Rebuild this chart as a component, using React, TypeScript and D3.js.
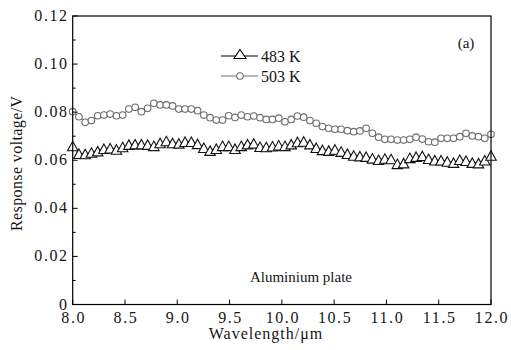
import React from "react";
import * as d3 from "d3";

// Wavelength sampling (µm) and response voltages (V) for the two temperatures
const wavelengthStart = 8.0;
const wavelengthEnd = 12.0;

const response483K: number[] = [
  0.0659, 0.0627, 0.0626, 0.0632, 0.0638, 0.0648, 0.065, 0.0645, 0.0655, 0.0665,
  0.0667, 0.0667, 0.0665, 0.066, 0.0672, 0.068, 0.0672, 0.067, 0.0677, 0.0677,
  0.0668, 0.0652, 0.064, 0.0648, 0.066, 0.066, 0.0648, 0.066, 0.0667, 0.067,
  0.0656, 0.0655, 0.0658, 0.0662, 0.066, 0.0667, 0.0676, 0.0678, 0.0667, 0.0652,
  0.0643, 0.064, 0.0645, 0.0636, 0.0627, 0.062, 0.0617, 0.0615, 0.0608, 0.0602,
  0.0607, 0.0605, 0.0585, 0.0588, 0.061, 0.0615, 0.0618, 0.0606, 0.06, 0.06,
  0.0595, 0.059, 0.0602, 0.0598, 0.059, 0.0588, 0.06, 0.062,
];

const response503K: number[] = [
  0.0802, 0.0781, 0.0758, 0.0765, 0.0785, 0.0788, 0.0792, 0.0785, 0.0788, 0.0813,
  0.082, 0.0802, 0.0816, 0.0837, 0.083, 0.083, 0.0826, 0.0813, 0.0813, 0.0813,
  0.0806, 0.0788, 0.0777, 0.0767, 0.0767, 0.0785, 0.0778, 0.0788, 0.0781, 0.0784,
  0.0777, 0.077, 0.077, 0.0775, 0.076, 0.077, 0.0784, 0.0779, 0.0765, 0.0754,
  0.074, 0.0733, 0.0729, 0.0729, 0.0723, 0.0719, 0.0722, 0.0733, 0.0712, 0.0696,
  0.0687, 0.0687, 0.0684, 0.0684, 0.0687, 0.0696, 0.0688, 0.0677, 0.0675, 0.0691,
  0.0691, 0.0691, 0.0698, 0.0712, 0.0701, 0.0698, 0.0691, 0.0708,
];

const xTicks: number[] = [8.0, 8.5, 9.0, 9.5, 10.0, 10.5, 11.0, 11.5, 12.0];
const yTicks: number[] = [0, 0.02, 0.04, 0.06, 0.08, 0.1, 0.12];
const yMinorTicks: number[] = [0.01, 0.03, 0.05, 0.07, 0.09, 0.11];
const yTickLabels: string[] = ["0", "0.02", "0.04", "0.06", "0.08", "0.10", "0.12"];
const seriesLabels: string[] = ["483 K", "503 K"];

const W = 511;
const H = 350;
const margin = { left: 72.7, right: 20, top: 16, bottom: 45.5 };
const FONT = "Liberation Serif, Times New Roman, DejaVu Serif, serif";
const CIRCLE_COLOR = "#6e6e6e";
const TEXT_COLOR = "#151515";

const wavelengths = (n: number) =>
  d3.range(n).map((i) => wavelengthStart + (i * (wavelengthEnd - wavelengthStart)) / (n - 1));

function trianglePath(cx: number, cy: number, w: number, h: number) {
  const p = d3.path();
  p.moveTo(cx, cy - h / 2);
  p.lineTo(cx + w / 2, cy + h / 2);
  p.lineTo(cx - w / 2, cy + h / 2);
  p.closePath();
  return p.toString();
}

const txt = (size: number, spacing = 0): React.CSSProperties => ({
  fontFamily: FONT,
  fontSize: `${size}px`,
  letterSpacing: `${spacing}px`,
  fill: TEXT_COLOR,
});

export default function App() {
  const x = d3
    .scaleLinear()
    .domain([wavelengthStart, wavelengthEnd])
    .range([margin.left, W - margin.right]);
  const y = d3
    .scaleLinear()
    .domain([0, 0.12])
    .range([H - margin.bottom, margin.top]);

  const pts483 = wavelengths(response483K.length).map((w, i) => [w, response483K[i]] as [number, number]);
  const pts503 = wavelengths(response503K.length).map((w, i) => [w, response503K[i]] as [number, number]);

  const line = d3
    .line<[number, number]>()
    .x((d) => x(d[0]))
    .y((d) => y(d[1]));

  const [x0, x1] = x.range();
  const [yb, yt] = y.range();

  return (
    <svg
      width={W}
      height={H}
      style={{ position: "absolute", left: 0, top: 0, background: "#fff" }}
    >
      {/* 503 K series: grey open circles */}
      <path d={line(pts503) ?? ""} fill="none" stroke={CIRCLE_COLOR} strokeWidth={1} />
      {pts503.map((d, i) => (
        <circle
          key={`c${i}`}
          cx={x(d[0])}
          cy={y(d[1])}
          r={3.3}
          fill="#fff"
          stroke={CIRCLE_COLOR}
          strokeWidth={1.1}
        />
      ))}

      {/* 483 K series: black open triangles */}
      <path d={line(pts483) ?? ""} fill="none" stroke="#000" strokeWidth={1} />
      {pts483.map((d, i) => (
        <path
          key={`t${i}`}
          d={trianglePath(x(d[0]), y(d[1]), 10.5, 9.5)}
          fill="#fff"
          stroke="#111"
          strokeWidth={1.1}
        />
      ))}

      {/* frame */}
      <rect x={x0} y={yt} width={x1 - x0} height={yb - yt} fill="none" stroke="#000" strokeWidth={1.2} />

      {/* y ticks */}
      {yTicks.map((t, i) => (
        <g key={`yt${i}`}>
          <line x1={x0} x2={x0 + 5} y1={y(t)} y2={y(t)} stroke="#000" strokeWidth={1} />
          <text x={x0 - 4} y={y(t) + 5} textAnchor="end" style={txt(16, 1.6)}>
            {yTickLabels[i]}
          </text>
        </g>
      ))}
      {yMinorTicks.map((t, i) => (
        <line key={`ym${i}`} x1={x0} x2={x0 + 3} y1={y(t)} y2={y(t)} stroke="#000" strokeWidth={1} />
      ))}

      {/* x ticks */}
      {xTicks.map((t, i) => (
        <g key={`xt${i}`}>
          <line x1={x(t)} x2={x(t)} y1={yb} y2={yb - 5} stroke="#000" strokeWidth={1} />
          <text x={x(t) + 1} y={yb + 18} textAnchor="middle" style={txt(16, 1.6)}>
            {t.toFixed(1)}
          </text>
        </g>
      ))}

      {/* axis titles */}
      <text x={266} y={339} textAnchor="middle" style={txt(16, 1.0)}>
        Wavelength/μm
      </text>
      <text
        transform={`translate(22, ${(yb + yt) / 2 + 3}) rotate(-90)`}
        textAnchor="middle"
        style={txt(16, 0.4)}
      >
        Response voltage/V
      </text>

      {/* annotations */}
      <text x={301} y={282} textAnchor="middle" style={txt(15)}>
        Aluminium plate
      </text>
      <text x={466} y={48} textAnchor="middle" style={txt(15)}>
        (a)
      </text>

      {/* legend */}
      <g>
        <line x1={221} x2={258} y1={56} y2={56} stroke="#000" strokeWidth={1.1} />
        <path d={trianglePath(240, 54, 12, 9)} fill="#fff" stroke="#000" strokeWidth={1.1} />
        <text x={261} y={61.5} style={txt(16)}>
          {seriesLabels[0]}
        </text>
        <line x1={221} x2={258} y1={76} y2={76} stroke={CIRCLE_COLOR} strokeWidth={1.1} />
        <circle cx={240} cy={76} r={3.3} fill="#fff" stroke={CIRCLE_COLOR} strokeWidth={1.1} />
        <text x={261} y={81.5} style={txt(16)}>
          {seriesLabels[1]}
        </text>
      </g>
    </svg>
  );
}
